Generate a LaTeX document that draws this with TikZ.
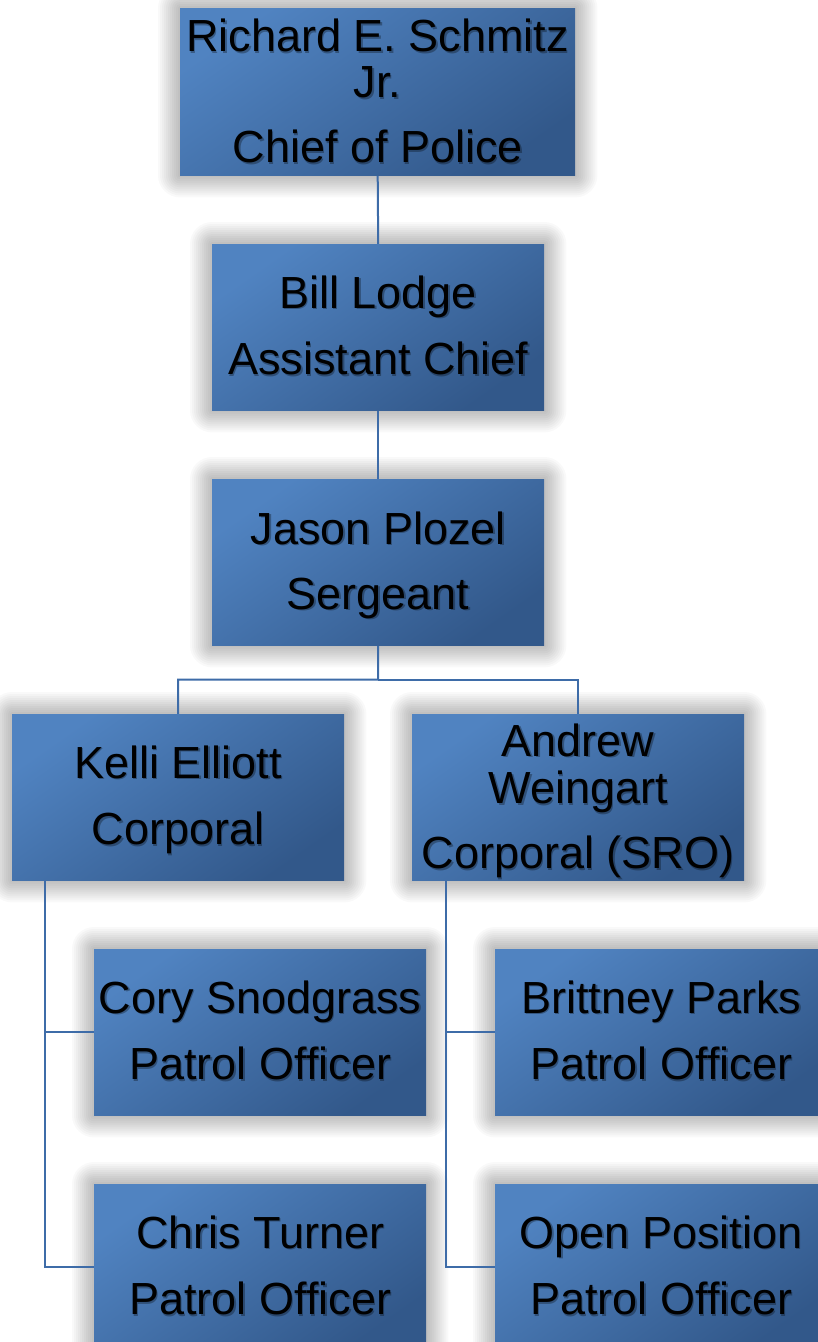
\documentclass[tikz,border=0pt]{standalone}
\usepackage{fontspec}
\setmainfont{Liberation Sans}
\usetikzlibrary{calc}
\definecolor{boxlight}{RGB}{80,131,193}
\definecolor{boxdark}{RGB}{50,88,138}
\definecolor{connblue}{RGB}{62,108,168}
\pgfdeclarelayer{back}
\pgfdeclarelayer{bg}
\pgfsetlayers{back,bg,main}
\tikzset{
  orgbox/.style={rectangle, inner sep=0pt, draw=none,
    top color=boxlight, bottom color=boxdark, shading angle=35},
  orgtext/.style={align=center, inner sep=0pt, text=black,
    font=\fontsize{45}{46}\selectfont},
  orgshadow/.style={orgtext, text=black, text opacity=0.3},
  conn/.style={draw=connblue, line width=2pt}
}
% #1 name, #2 left, #3 top, #4 width, #5 height, #6 text y-offset, #7 text
\newcommand\orgunit[7]{%
  \node[orgbox, minimum width=#4pt, minimum height=#5pt, anchor=north west] (#1) at (#2,#3) {};
  \begin{pgfonlayer}{bg}
    \foreach \k in {1,...,11} {
      \fill[black, opacity=0.024, rounded corners=2*\k pt]
        ([shift={(-2*\k pt,2*\k pt)}]#1.north west) rectangle
        ([shift={(2*\k pt,-2*\k pt)}]#1.south east);
    }
  \end{pgfonlayer}
  \node[orgshadow] (#1-sh) at ([shift={(1.5pt,-1.5pt-#6pt)}]#1.center) {#7};
  \node[orgtext] (#1-t) at ([shift={(0pt,-#6pt)}]#1.center) {#7};
}
\begin{document}
\begin{tikzpicture}[x=1pt, y=-1pt]
\useasboundingbox (0,0) rectangle (818,1342);
\begin{pgfonlayer}{back}
  \fill[white] (0,0) rectangle (818,1342);
\end{pgfonlayer}
\orgunit{chief}{180}{8}{395}{167}{6}{\strut Richard E. Schmitz\\Jr.\\[19pt]Chief of Police\strut}
\orgunit{bill}{212}{244}{332}{166}{5}{\strut Bill Lodge\\[19pt]Assistant Chief\strut}
\orgunit{jason}{212}{479}{332}{166}{5}{\strut Jason Plozel\\[19pt]Sergeant\strut}
\orgunit{kelli}{12}{714}{332}{166}{5}{\strut Kelli Elliott\\[19pt]Corporal\strut}
\orgunit{andrew}{412}{714}{332}{166}{6}{\strut Andrew\\Weingart\\[19pt]Corporal (SRO)\strut}
\orgunit{cory}{94}{949}{332}{166}{5}{\strut Cory Snodgrass\\[19pt]Patrol Officer\strut}
\orgunit{brittney}{495}{949}{332}{166}{5}{\strut Brittney Parks\\[19pt]Patrol Officer\strut}
\orgunit{chris}{94}{1184}{332}{166}{5}{\strut Chris Turner\\[19pt]Patrol Officer\strut}
\orgunit{open}{495}{1184}{332}{166}{5}{\strut Open Position\\[19pt]Patrol Officer\strut}
\begin{pgfonlayer}{bg}
  \draw[conn] (chief.south) -- (bill.north);
  \draw[conn] (bill.south) -- (jason.north);
  \coordinate (split) at ($(jason.south)!0.5!(jason.south |- kelli.north)$);
  \draw[conn] (jason.south) -- (split) -| (kelli.north);
  \draw[conn] (split) -| (andrew.north);
  \coordinate (kelliout) at ([xshift=33pt]kelli.south west);
  \coordinate (andrewout) at ([xshift=34pt]andrew.south west);
  \draw[conn] (kelliout) |- (cory.west);
  \draw[conn] (kelliout) |- (chris.west);
  \draw[conn] (andrewout) |- (brittney.west);
  \draw[conn] (andrewout) |- (open.west);
\end{pgfonlayer}
\end{tikzpicture}
\end{document}
